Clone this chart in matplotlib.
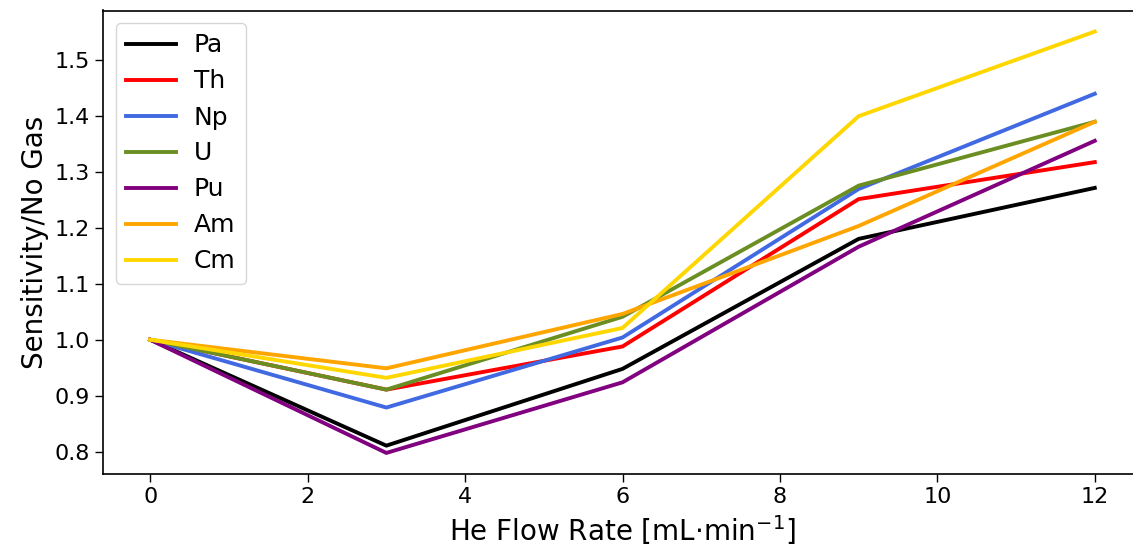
import matplotlib
matplotlib.use("Agg")
import matplotlib.pyplot as plt

flow = [0, 3, 6, 9, 12]
elements = ["Pa", "Th", "Np", "U", "Pu", "Am", "Cm"]
pa = [1.0, 0.811, 0.948, 1.180, 1.271]
th = [1.0, 0.911, 0.988, 1.251, 1.317]
np_ = [1.0, 0.879, 1.004, 1.269, 1.439]
u = [1.0, 0.911, 1.041, 1.275, 1.389]
pu = [1.0, 0.798, 0.924, 1.166, 1.355]
am = [1.0, 0.949, 1.046, 1.203, 1.389]
cm = [1.0, 0.932, 1.021, 1.399, 1.550]
series = [pa, th, np_, u, pu, am, cm]
colors = ["black", "red", "royalblue", "olivedrab", "purple", "orange", "gold"]

fig = plt.figure(figsize=(11.33, 5.5), dpi=100)
ax = fig.add_axes([103/1133, 1 - 474/550, (1142 - 103)/1133, (474 - 10.5)/550])
for name, vals, c in zip(elements, series, colors):
    ax.plot(flow, vals, color=c, lw=2.8, label=name)

ax.set_xlabel("He Flow Rate [mL$\\cdot$min$^{-1}$]", fontsize=20)
ax.set_ylabel("Sensitivity/No Gas", fontsize=20)
ax.tick_params(labelsize=16, length=6, width=1)
for s in ax.spines.values():
    s.set_linewidth(1.2)
ax.legend(loc="upper left", fontsize=18, handlelength=2.0, borderpad=0.42,
          labelspacing=0.48, handletextpad=0.7)
fig.savefig("out.png", dpi=100)
